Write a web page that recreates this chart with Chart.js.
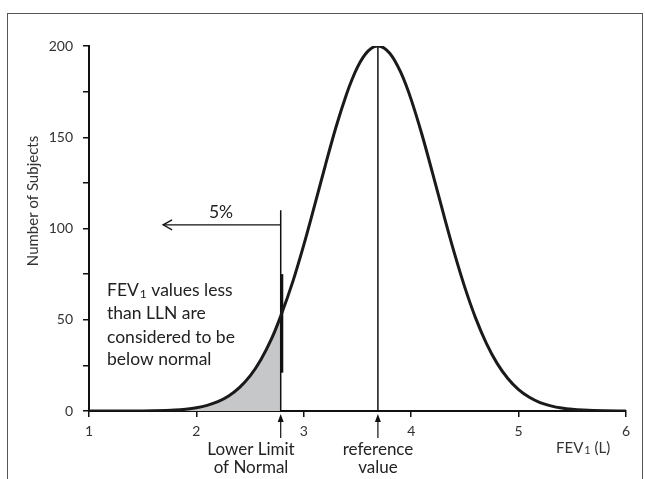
<!DOCTYPE html>
<html>
<head>
<meta charset="utf-8">
<script src="https://cdn.jsdelivr.net/npm/chart.js@4.4.0/dist/chart.umd.min.js"></script>
<style>
  body { margin: 0; background: #fff; }
  #wrap { position: relative; width: 645px; height: 479px; overflow: hidden; }
  #frame { position: absolute; left: 7px; top: 13px; width: 636px; height: 500px;
           border: 1.5px solid #555; border-bottom: none; box-sizing: border-box; }
  #c { position: absolute; left: 0; top: 0; }
</style>
</head>
<body>
<div id="wrap">
  <div id="frame"></div>
  <canvas id="c" width="645" height="479"></canvas>
</div>
<script>
//DADOS: FEV1 (L) e numero de sujeitos
const fev = [1.0, 1.2, 1.4, 1.6, 1.8, 1.9, 2.0, 2.1, 2.2, 2.3, 2.4, 2.5, 2.6, 2.7, 2.785,
  2.9, 3.0, 3.1, 3.2, 3.3, 3.4, 3.45, 3.5, 3.55, 3.6, 3.65, 3.69, 3.75, 3.8, 3.85, 3.9, 3.95,
  4.0, 4.1, 4.2, 4.3, 4.4, 4.5, 4.6, 4.7, 4.8, 4.9, 5.0, 5.1, 5.2, 5.3, 5.4, 5.5, 5.6, 5.8, 6.0]
const subjects = [0, 0, 0, 0.1, 0.5, 1, 1.8, 3.1, 5.1, 8.2, 12.8, 19.2, 28.1, 39.6, 52,
  71.3, 91, 112.5, 134.5, 155.6, 174, 181.8, 188.4, 193.6, 197.3, 199.5, 200, 198.8, 196, 191.7, 185.9, 178.9,
  170.6, 151.5, 130.1, 108.1, 86.9, 67.6, 50.9, 37.1, 26.1, 17.8, 11.7, 7.5, 4.6, 2.8, 1.6, 0.9, 0.5, 0.1, 0]
const xTicks = [1, 2, 3, 4, 5, 6]
const yTicks = [0, 50, 100, 150, 200]

//MARCADORES:
const lln = 2.785        // lower limit of normal
const refValue = 3.69    // reference value
const lln5Top = 110      // topo da linha do LLN
const arrowY = 102       // altura da seta "5%"
const arrowEnd = 1.69

const font = 'Lato, "Open Sans", sans-serif'

let curve = fev.map((x, i) => ({ x: x, y: subjects[i] }))
let shade = curve.filter(p => p.x <= lln)

function line(color, width, order, data) {
  return { data: data, borderColor: color, borderWidth: width, pointRadius: 0, fill: false, order: order }
}

//PLUGIN para textos e setas
const extras = {
  id: 'extras',
  afterDraw(chart) {
    const ctx = chart.ctx
    const xs = chart.scales.x, ys = chart.scales.y
    ctx.save()
    ctx.strokeStyle = '#111'
    ctx.fillStyle = '#111'

    // ponta da seta do 5%
    let ax = xs.getPixelForValue(arrowEnd), ay = ys.getPixelForValue(arrowY)
    ctx.lineWidth = 1.3
    ctx.beginPath()
    ctx.moveTo(ax + 9, ay - 5)
    ctx.lineTo(ax, ay)
    ctx.lineTo(ax + 9, ay + 5)
    ctx.stroke()

    ctx.fillStyle = '#222'
    ctx.textBaseline = 'middle'
    ctx.textAlign = 'center'
    ctx.font = '17.5px ' + font
    ctx.fillText('5%', 221, ay - 12)

    // texto explicativo
    ctx.textAlign = 'left'
    let tx = 107
    ctx.fillText('FEV', tx, 290)
    let w = ctx.measureText('FEV').width
    ctx.font = '12px ' + font
    ctx.fillText('1', tx + w + 1, 294)
    let w1 = ctx.measureText('1').width
    ctx.font = '17.5px ' + font
    ctx.fillText(' values less', tx + w + w1 + 1, 290)
    ctx.fillText('than LLN are', tx, 313)
    ctx.fillText('considered to be', tx, 337)
    ctx.fillText('below normal', tx, 359)

    // setas abaixo do eixo
    let base = ys.getPixelForValue(0)
    for (let v of [lln, refValue]) {
      let px = xs.getPixelForValue(v)
      ctx.strokeStyle = '#111'
      ctx.fillStyle = '#111'
      ctx.lineWidth = 1.2
      ctx.beginPath()
      ctx.moveTo(px, base + 10)
      ctx.lineTo(px, base + 27)
      ctx.stroke()
      ctx.beginPath()
      ctx.moveTo(px, base + 3)
      ctx.lineTo(px - 3, base + 11)
      ctx.lineTo(px + 3, base + 11)
      ctx.closePath()
      ctx.fill()
    }

    ctx.fillStyle = '#222'
    ctx.textAlign = 'center'
    ctx.font = '17px ' + font
    ctx.fillText('Lower Limit', 251, 450)
    ctx.fillText('of Normal', 251, 468)
    ctx.fillText('reference', 378, 450)
    ctx.fillText('value', 378, 468)

    // titulo do eixo x
    ctx.textAlign = 'left'
    ctx.font = '15px ' + font
    ctx.fillStyle = '#333'
    let fx = 556
    ctx.fillText('FEV', fx, 448)
    let fw = ctx.measureText('FEV').width
    ctx.font = '11px ' + font
    ctx.fillText('1', fx + fw + 1, 450)
    let fw1 = ctx.measureText('1').width
    ctx.font = '15px ' + font
    ctx.fillText(' (L)', fx + fw + fw1 + 1, 448)

    // titulo do eixo y
    ctx.translate(33, 201)
    ctx.rotate(-Math.PI / 2)
    ctx.textAlign = 'center'
    ctx.fillText('Number of Subjects', 0, 0)
    ctx.restore()
  }
}

let ctx = document.querySelector('#c')
new Chart(ctx, {
  type: 'line',
  data: {
    datasets: [
      line('#1a1a1a', 3, 1, curve),
      line('#111', 1.5, 2, [{ x: refValue, y: 0 }, { x: refValue, y: 200 }]),
      line('#111', 1.5, 2, [{ x: lln, y: 0 }, { x: lln, y: lln5Top }]),
      line('#111', 3, 2, [{ x: lln + 0.01, y: 21 }, { x: lln + 0.01, y: 75 }]),
      line('#111', 1.3, 2, [{ x: arrowEnd, y: arrowY }, { x: lln, y: arrowY }]),
      { data: shade, borderWidth: 0, pointRadius: 0, fill: 'origin',
        backgroundColor: '#c6c7c9', cubicInterpolationMode: 'monotone', order: 5 }
    ]
  },
  options: {
    responsive: false,
    animation: false,
    datasets: { line: { cubicInterpolationMode: 'monotone' } },
    layout: { padding: { top: 46, right: 19, left: 0, bottom: 0 } },
    plugins: { legend: { display: false }, tooltip: { enabled: false } },
    scales: {
      x: {
        type: 'linear', min: 1, max: 6,
        afterFit: s => { s.height = 68 },
        afterBuildTicks: s => { s.ticks = xTicks.map(v => ({ value: v })) },
        ticks: { color: '#333', font: { family: font, size: 14 }, padding: 6 },
        grid: { drawOnChartArea: false, tickLength: 6, color: '#111', lineWidth: 1.5 },
        border: { color: '#111', width: 2 }
      },
      y: {
        min: 0, max: 200,
        afterFit: s => { s.width = 89 },
        ticks: { stepSize: 25, color: '#333', font: { family: font, size: 14 }, padding: 10,
          callback: v => yTicks.includes(v) ? v : '' },
        grid: { drawOnChartArea: false, tickLength: 6, color: '#111', lineWidth: 1.5 },
        border: { color: '#111', width: 2 }
      }
    }
  },
  plugins: [extras]
})
</script>
</body>
</html>
